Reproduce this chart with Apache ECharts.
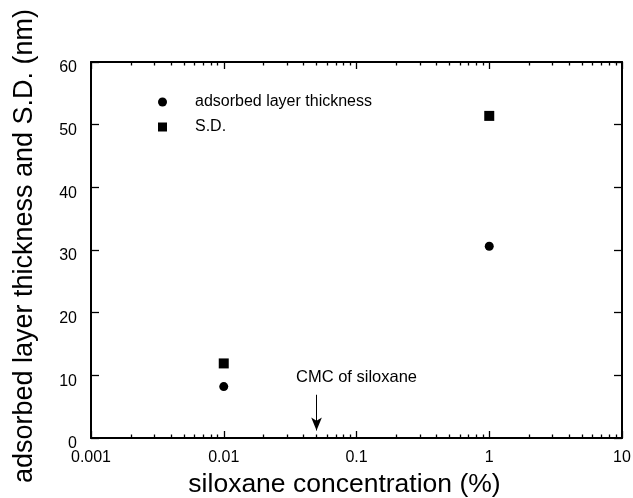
<!DOCTYPE html>
<html>
<head>
<meta charset="utf-8">
<script src="https://cdn.jsdelivr.net/npm/echarts@6/dist/echarts.min.js"></script>
<style>
html,body{margin:0;padding:0;background:#fff;}
#chart{width:633px;height:498px;}
</style>
</head>
<body>
<div id="chart"></div>
<script>
// ---- data ----
const concentrations = [0.01, 1];
const layerThickness = [8.2, 30.6];
const standardDeviation = [11.9, 51.4];
const seriesNames = ['adsorbed layer thickness', 'S.D.'];
const xMajorTicks = [0.001, 0.01, 0.1, 1, 10];
const xMinorTicks = [0.002,0.003,0.004,0.005,0.006,0.007,0.008,0.009,
                     0.02,0.03,0.04,0.05,0.06,0.07,0.08,0.09,
                     0.2,0.3,0.4,0.5,0.6,0.7,0.8,0.9,
                     2,3,4,5,6,7,8,9];
const yTicks = [0, 10, 20, 30, 40, 50, 60];
const cmcArrowFrom = [0.05, 6.9];
const cmcArrowTo = [0.05, 1.2];
const cmcLabelAt = [0.1, 9.6];
const cmcText = 'CMC of siloxane';
const xTitle = 'siloxane concentration (%)';
const yTitle = 'adsorbed layer thickness and S.D. (nm)';

const FONT = "'Liberation Sans', Arial, Helvetica, sans-serif";
const chart = echarts.init(document.getElementById('chart'));

function logAxis(pos, minor, labels) {
  return {
    type: 'log', logBase: 10, min: xMajorTicks[0], max: xMajorTicks[xMajorTicks.length - 1],
    position: pos,
    name: labels ? xTitle : '',
    nameLocation: 'middle', nameGap: 32,
    nameTextStyle: { fontSize: 26.5, color: '#000', fontFamily: FONT, padding: [0, 24, 0, 0] },
    axisLine: { show: !minor, onZero: false, lineStyle: { color: '#000', width: 2 } },
    axisTick: { show: true, inside: true, length: minor ? 3.5 : 7, customValues: minor ? xMinorTicks : xMajorTicks,
                lineStyle: { color: '#000', width: 1.3 } },
    axisLabel: { show: labels, customValues: xMajorTicks, fontSize: 16, color: '#000', fontFamily: FONT, margin: 12,
                 formatter: v => String(v) },
    splitLine: { show: false },
    minorTick: { show: false }
  };
}

chart.setOption({
  animation: false,
  backgroundColor: '#fff',
  grid: { left: 91, right: 11, top: 62, bottom: 60, containLabel: false, outerBoundsMode: 'none' },
  legend: {
    data: seriesNames,
    orient: 'vertical',
    left: 153, top: 89,
    itemWidth: 9, itemHeight: 9, itemGap: 9,
    textStyle: { fontSize: 16, color: '#000', fontFamily: FONT, padding: [0, 0, 0, 23] },
    selectedMode: false
  },
  xAxis: [
    logAxis('bottom', false, true),
    logAxis('bottom', true, false),
    logAxis('top', false, false),
    logAxis('top', true, false)
  ],
  yAxis: [
    {
      type: 'value', min: yTicks[0], max: yTicks[yTicks.length - 1], interval: 10, position: 'left',
      name: yTitle, nameLocation: 'middle', nameGap: 53,
      nameTextStyle: { fontSize: 27, color: '#000', fontFamily: FONT, padding: [0, 0, 0, 8] },
      axisLine: { show: true, lineStyle: { color: '#000', width: 2 } },
      axisTick: { show: true, inside: true, length: 8, lineStyle: { color: '#000', width: 1.3 } },
      axisLabel: { fontSize: 16, color: '#000', fontFamily: FONT, margin: 14, verticalAlign: 'top', lineHeight: 12 },
      splitLine: { show: false }
    },
    {
      type: 'value', min: yTicks[0], max: yTicks[yTicks.length - 1], interval: 10, position: 'right',
      axisLine: { show: true, lineStyle: { color: '#000', width: 2 } },
      axisTick: { show: true, inside: true, length: 8, lineStyle: { color: '#000', width: 1.3 } },
      axisLabel: { show: false },
      splitLine: { show: false }
    }
  ],
  series: [
    {
      name: seriesNames[0], type: 'scatter', xAxisIndex: 0, yAxisIndex: 0,
      symbol: 'circle', symbolSize: 9,
      itemStyle: { color: '#000', opacity: 1 },
      data: concentrations.map((c, i) => [c, layerThickness[i]]),
      markLine: {
        silent: true,
        symbol: ['none', 'arrow'], symbolSize: [8, 13],
        lineStyle: { color: '#000', width: 1, type: 'solid', opacity: 1 },
        itemStyle: { color: '#000', opacity: 1 },
        label: { show: false },
        data: [[{ coord: cmcArrowFrom }, { coord: cmcArrowTo }]]
      },
      markPoint: {
        silent: true,
        symbol: 'circle', symbolSize: 0,
        label: { show: true, position: 'inside', formatter: cmcText, fontSize: 16.5, color: '#000', fontFamily: FONT },
        data: [{ coord: cmcLabelAt }]
      }
    },
    {
      name: seriesNames[1], type: 'scatter', xAxisIndex: 0, yAxisIndex: 0,
      symbol: 'rect', symbolSize: 10,
      itemStyle: { color: '#000', opacity: 1 },
      data: concentrations.map((c, i) => [c, standardDeviation[i]])
    }
  ]
});
</script>
</body>
</html>
